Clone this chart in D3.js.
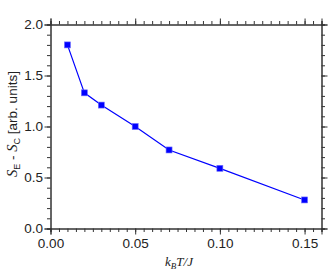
<!DOCTYPE html>
<html><head><meta charset="utf-8">
<script src="https://cdn.jsdelivr.net/npm/d3@7"></script>
<style>body{margin:0;background:#fff;}svg{display:block;}</style>
</head><body>
<script>
const temps = [0.01, 0.02, 0.03, 0.05, 0.07, 0.10, 0.15];
const entropyDiff = [1.80, 1.33, 1.21, 1.00, 0.77, 0.59, 0.28];
const xTickValues = [0.00, 0.05, 0.10, 0.15];
const yTickValues = [0.0, 0.5, 1.0, 1.5, 2.0];

const W = 332, H = 276;
const m = {left: 50.5, right: 321.5, top: 24.5, bottom: 228.5};
const svg = d3.select("body").append("svg").attr("width", W).attr("height", H);
const x = d3.scaleLinear().domain([0, 0.16]).range([m.left, m.right]);
const y = d3.scaleLinear().domain([0, 2]).range([m.bottom, m.top]);

const axisColor = "#333";
const xMinor = d3.range(0, 0.1601, 0.005).map(v => +v.toFixed(3));
const yMinor = d3.range(0, 2.001, 0.1).map(v => +v.toFixed(2));

function styleAxis(g){
  g.select(".domain").attr("stroke", axisColor);
  g.selectAll(".tick line").attr("stroke", axisColor);
  g.selectAll("text").attr("fill", "#222").style("font-family","Liberation Sans, Arial, sans-serif").style("font-size","13.5px");
}
// minor
svg.append("g").attr("transform",`translate(0,${m.bottom})`).call(d3.axisBottom(x).tickValues(xMinor).tickSize(3.5).tickFormat("")).call(styleAxis);
svg.append("g").attr("transform",`translate(0,${m.top})`).call(d3.axisTop(x).tickValues(xMinor).tickSize(3.5).tickFormat("")).call(styleAxis);
svg.append("g").attr("transform",`translate(${m.left},0)`).call(d3.axisLeft(y).tickValues(yMinor).tickSize(3.5).tickFormat("")).call(styleAxis);
svg.append("g").attr("transform",`translate(${m.right},0)`).call(d3.axisRight(y).tickValues(yMinor).tickSize(3.5).tickFormat("")).call(styleAxis);
// major
svg.append("g").attr("transform",`translate(0,${m.bottom})`).call(d3.axisBottom(x).tickValues(xTickValues).tickSize(6).tickPadding(4).tickFormat(d3.format(".2f"))).call(styleAxis);
svg.append("g").attr("transform",`translate(0,${m.top})`).call(d3.axisTop(x).tickValues(xTickValues).tickSize(6).tickFormat("")).call(styleAxis);
svg.append("g").attr("transform",`translate(${m.left},0)`).call(d3.axisLeft(y).tickValues(yTickValues).tickSize(6).tickPadding(1.5).tickFormat(d3.format(".1f"))).call(styleAxis);
svg.append("g").attr("transform",`translate(${m.right},0)`).call(d3.axisRight(y).tickValues(yTickValues).tickSize(6).tickFormat("")).call(styleAxis);

const data = temps.map((t,i)=>({t, s: entropyDiff[i]}));
svg.append("path").datum(data)
  .attr("fill","none").attr("stroke","#0000ff").attr("stroke-width",1.2)
  .attr("d", d3.line().x(d=>x(d.t)).y(d=>y(d.s)));
svg.selectAll("rect.pt").data(data).enter().append("rect").attr("class","pt")
  .attr("x", d=>x(d.t)-3).attr("y", d=>y(d.s)-3).attr("width",6).attr("height",6)
  .attr("fill","#0000ff").attr("stroke","#6f6fff").attr("stroke-width",0.6);

// x label
const xl = svg.append("text").attr("x", 179).attr("y", 266).attr("text-anchor","middle")
  .style("font-family","Liberation Serif, Times New Roman, serif").style("font-style","italic").style("font-size","13px").attr("fill","#222");
xl.append("tspan").text("k");
xl.append("tspan").attr("dy",2.5).style("font-size","9px").text("B");
xl.append("tspan").attr("dy",-2.5).text("T/J");

// y label
const yl = svg.append("text").attr("transform","translate(17,124) rotate(-90)").attr("text-anchor","middle")
  .style("font-size","13.5px").attr("fill","#222").style("font-family","Liberation Sans, Arial, sans-serif");
yl.append("tspan").style("font-family","Liberation Serif, serif").style("font-style","italic").style("font-size","14.5px").text("S");
yl.append("tspan").attr("dy",2.5).style("font-size","9px").text("E");
yl.append("tspan").attr("dy",-2.5).text(" - ");
yl.append("tspan").style("font-family","Liberation Serif, serif").style("font-style","italic").style("font-size","14.5px").text("S");
yl.append("tspan").attr("dy",2.5).style("font-size","9px").text("C");
yl.append("tspan").attr("dy",-2.5).text(" [arb. units]");
</script>
</body></html>
